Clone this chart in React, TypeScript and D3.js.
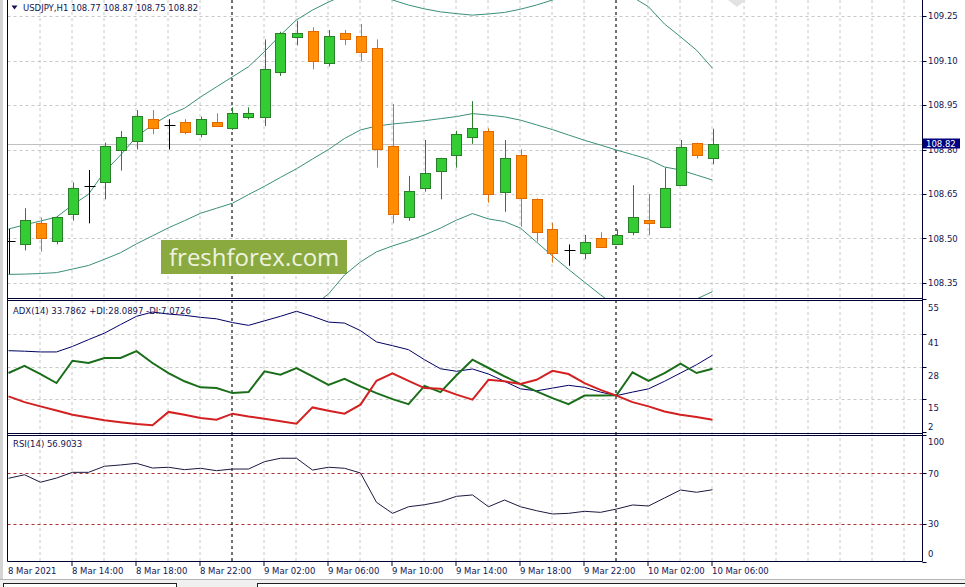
import * as d3 from "d3";

// USDJPY H1 bars, 8 Mar 10:00 .. 10 Mar 06:00
const opens = [108.49, 108.48, 108.551, 108.49, 108.582, 108.678, 108.689, 108.8, 108.83, 108.902, 108.883, 108.892, 108.851, 108.892, 108.871, 108.911, 108.911, 109.06, 109.18, 109.2, 109.09, 109.192, 109.183, 109.141, 108.812, 108.571, 108.669, 108.729, 108.78, 108.841, 108.862, 108.658, 108.78, 108.632, 108.531, 108.461, 108.45, 108.501, 108.48, 108.521, 108.562, 108.54, 108.679, 108.821, 108.77];
const highs = [108.532, 108.602, 108.571, 108.575, 108.689, 108.731, 108.823, 108.862, 108.933, 108.933, 108.902, 108.902, 108.911, 108.922, 108.942, 108.942, 109.171, 109.197, 109.234, 109.212, 109.203, 109.203, 109.223, 109.171, 108.953, 108.711, 108.832, 108.772, 108.863, 108.963, 108.871, 108.832, 108.801, 108.635, 108.553, 108.48, 108.512, 108.521, 108.531, 108.68, 108.65, 108.739, 108.832, 108.823, 108.87];
const lows = [108.38, 108.46, 108.456, 108.48, 108.56, 108.551, 108.632, 108.729, 108.8, 108.851, 108.8, 108.851, 108.841, 108.88, 108.866, 108.902, 108.879, 109.048, 109.151, 109.07, 109.08, 109.152, 109.098, 108.739, 108.551, 108.56, 108.658, 108.632, 108.739, 108.819, 108.621, 108.59, 108.54, 108.489, 108.419, 108.408, 108.43, 108.468, 108.478, 108.511, 108.511, 108.538, 108.677, 108.77, 108.75];
const closes = [108.49, 108.562, 108.501, 108.571, 108.669, 108.678, 108.812, 108.841, 108.913, 108.871, 108.883, 108.86, 108.902, 108.88, 108.922, 108.922, 109.07, 109.192, 109.192, 109.099, 109.183, 109.171, 109.13, 108.801, 108.582, 108.659, 108.72, 108.77, 108.852, 108.871, 108.649, 108.77, 108.638, 108.521, 108.45, 108.461, 108.489, 108.47, 108.511, 108.571, 108.551, 108.669, 108.81, 108.78, 108.82];

// Bollinger bands
const bandUpper = [108.532, 108.546, 108.559, 108.572, 108.613, 108.649, 108.725, 108.781, 108.843, 108.883, 108.916, 108.939, 108.977, 109.011, 109.045, 109.079, 109.13, 109.186, 109.237, 109.27, 109.297, 109.321, 109.331, 109.324, 109.304, 109.287, 109.274, 109.264, 109.258, 109.253, 109.257, 109.262, 109.273, 109.287, 109.304, 109.324, 109.338, 109.344, 109.338, 109.314, 109.281, 109.223, 109.18, 109.135, 109.074];
const bandMiddle = [108.379, 108.38, 108.382, 108.385, 108.397, 108.409, 108.43, 108.452, 108.482, 108.509, 108.536, 108.56, 108.585, 108.602, 108.619, 108.648, 108.676, 108.706, 108.735, 108.768, 108.8, 108.837, 108.866, 108.879, 108.886, 108.891, 108.897, 108.904, 108.911, 108.921, 108.916, 108.91, 108.899, 108.883, 108.867, 108.849, 108.831, 108.815, 108.798, 108.783, 108.767, 108.741, 108.731, 108.714, 108.697];
const bandLower = [108.225, 108.215, 108.205, 108.198, 108.181, 108.168, 108.134, 108.124, 108.121, 108.134, 108.155, 108.181, 108.192, 108.192, 108.192, 108.215, 108.222, 108.225, 108.232, 108.272, 108.313, 108.377, 108.421, 108.455, 108.475, 108.492, 108.512, 108.535, 108.562, 108.584, 108.566, 108.557, 108.535, 108.488, 108.441, 108.396, 108.353, 108.31, 108.272, 108.252, 108.252, 108.259, 108.283, 108.296, 108.321];

// ADX(14)
const adx = [34.8, 34.6, 34.3, 34.3, 36.5, 39.2, 41.8, 45.2, 48.5, 50.2, 49.4, 48.9, 48.1, 47.5, 46.0, 44.9, 46.7, 48.5, 50.5, 48.5, 46.2, 45.8, 42.8, 38.3, 36.8, 35.2, 31.2, 27.6, 26.6, 27.5, 25.5, 22.6, 19.6, 18.8, 19.9, 21.0, 20.2, 18.3, 16.9, 18.3, 19.6, 22.6, 25.9, 29.2, 33.0];
const plusDi = [25.9, 28.8, 25.5, 21.9, 30.8, 29.9, 31.9, 31.9, 34.6, 29.9, 25.9, 22.6, 20.2, 19.9, 17.9, 18.3, 26.6, 25.2, 27.9, 24.6, 21.2, 23.6, 20.6, 17.9, 15.5, 13.5, 20.8, 18.3, 25.0, 31.2, 27.9, 24.6, 21.5, 18.6, 15.9, 13.5, 16.9, 16.9, 17.0, 26.2, 22.8, 25.9, 29.6, 25.9, 27.6];
const minusDi = [16.6, 14.3, 12.6, 11.0, 9.3, 8.2, 7.1, 6.3, 5.6, 5.1, 10.4, 9.3, 8.0, 7.3, 9.7, 8.6, 7.7, 6.7, 5.7, 12.2, 10.9, 9.7, 13.3, 22.8, 25.8, 22.8, 19.9, 19.6, 17.3, 15.3, 23.2, 22.6, 21.5, 23.2, 26.8, 25.5, 21.9, 19.2, 16.9, 14.3, 12.6, 10.6, 9.3, 8.4, 7.3];

// RSI(14)
const rsi = [65.9, 68.7, 62.8, 66.1, 70.6, 70.6, 75.4, 76.4, 77.7, 74.0, 74.6, 72.7, 73.8, 71.9, 73.2, 73.2, 79.0, 81.7, 81.7, 72.4, 74.6, 73.8, 70.1, 47.0, 38.3, 43.5, 45.1, 47.5, 51.7, 52.8, 43.5, 48.8, 43.5, 40.4, 37.8, 38.3, 39.9, 39.1, 41.7, 44.9, 44.1, 50.4, 56.7, 54.9, 56.9];

const priceTicks = [108.35, 108.5, 108.65, 108.8, 108.95, 109.1, 109.25];
const adxTicks = [55, 41, 28, 15, 2];
const rsiTicks = [100, 70, 30, 0];
const rsiLevels = [70, 30];
const timeLabels = [
  { bar: 0, label: "8 Mar 2021" },
  { bar: 4, label: "8 Mar 14:00" },
  { bar: 8, label: "8 Mar 18:00" },
  { bar: 12, label: "8 Mar 22:00" },
  { bar: 16, label: "9 Mar 02:00" },
  { bar: 20, label: "9 Mar 06:00" },
  { bar: 24, label: "9 Mar 10:00" },
  { bar: 28, label: "9 Mar 14:00" },
  { bar: 32, label: "9 Mar 18:00" },
  { bar: 36, label: "9 Mar 22:00" },
  { bar: 40, label: "10 Mar 02:00" },
  { bar: 44, label: "10 Mar 06:00" },
];
const daySeparators = [14, 38];
const lastPrice = 108.82;

const FONT = "'DejaVu Sans', Tahoma, sans-serif";
const NAVY = "#000033";
const TXT = "#141450";
const GRID = "#c8c8c8";

const L = 7.5;
const R = 922.5;

export default function App() {
  const x = d3.scaleLinear().domain([0, 44]).range([8.5, 712.5]);
  const yP = d3.scaleLinear().domain([108.35, 109.25]).range([283, 16]);
  const yA = d3.scaleLinear().domain([2, 55]).range([433, 300]);
  const yR = d3.scaleLinear().domain([0, 100]).range([562, 435]);

  const lineOf = (y: d3.ScaleLinear<number, number>) =>
    d3.line<number>().x((_, i) => x(i)).y((v) => y(v));

  const gridBars = d3.range(2, 57, 2);

  return (
    <svg
      width={965}
      height={587}
      style={{ position: "absolute", left: 0, top: 0, background: "#fff" }}
      fontFamily={FONT}
    >
      <defs>
        <clipPath id="cMain">
          <rect x={8} y={0} width={914} height={298} />
        </clipPath>
        <clipPath id="cAdx">
          <rect x={8} y={301} width={914} height={132} />
        </clipPath>
        <clipPath id="cRsi">
          <rect x={8} y={436} width={914} height={125} />
        </clipPath>
      </defs>
      <rect x={0} y={0} width={965} height={587} fill="#fff" />
      <rect x={0} y={0} width={3} height={580} fill="#d4d4d4" />

      {/* vertical grid */}
      {gridBars.map((b) => (
        <line key={"vg" + b} x1={8 + b * 16} x2={8 + b * 16} y1={0} y2={561} stroke={GRID} strokeDasharray="3,3" />
      ))}
      {/* horizontal grids */}
      {priceTicks.map((p) => (
        <line key={"hg" + p} x1={L} x2={R} y1={Math.round(yP(p)) + 0.5} y2={Math.round(yP(p)) + 0.5} stroke={GRID} strokeDasharray="3,3" />
      ))}
      {[41, 28, 15].map((v) => (
        <line key={"ag" + v} x1={L} x2={R} y1={Math.round(yA(v)) - 0.5} y2={Math.round(yA(v)) - 0.5} stroke={GRID} strokeDasharray="3,3" />
      ))}
      {rsiLevels.map((v) => (
        <line key={"rl" + v} x1={L} x2={R} y1={Math.round(yR(v)) + 0.5} y2={Math.round(yR(v)) + 0.5} stroke="#b03030" strokeDasharray="3,3" />
      ))}

      {/* day separators */}
      {daySeparators.map((b) => (
        <line key={"ds" + b} x1={8 + b * 16} x2={8 + b * 16} y1={0} y2={561} stroke="#000" strokeDasharray="3,3" />
      ))}

      {/* watermark */}
      <rect x={161} y={240} width={186} height={34} fill="#8aa93f" />
      <text x={169} y={266} fontFamily="'Open Sans', sans-serif" fontSize={24} fill="#eef3e0">
        freshforex.com
      </text>

      {/* main panel */}
      <g clipPath="url(#cMain)">
        <line x1={L} x2={R} y1={Math.round(yP(lastPrice)) + 0.5} y2={Math.round(yP(lastPrice)) + 0.5} stroke="#c0c0c0" />
        {[bandUpper, bandMiddle, bandLower].map((s, k) => (
          <path key={"bb" + k} d={lineOf(yP)(s) ?? ""} fill="none" stroke="#3a8f7a" strokeWidth={1} />
        ))}
        {opens.map((o, i) => {
          const c = closes[i];
          const cx = Math.round(x(i)) + 0.5;
          const hi = yP(highs[i]);
          const lo = yP(lows[i]);
          if (o === c) {
            const yy = Math.round(yP(o)) + 0.5;
            return (
              <g key={"c" + i}>
                <line x1={cx} x2={cx} y1={hi} y2={lo} stroke="#000" />
                <line x1={cx - 5} x2={cx + 6} y1={yy} y2={yy} stroke="#000" />
              </g>
            );
          }
          const up = c > o;
          const top = Math.round(yP(Math.max(o, c))) + 0.5;
          const bot = Math.round(yP(Math.min(o, c))) + 0.5;
          return (
            <g key={"c" + i}>
              <line x1={cx} x2={cx} y1={hi} y2={lo} stroke={up ? "#2a7f2a" : "#e0700f"} />
              <rect
                x={cx - 5}
                y={top}
                width={10}
                height={Math.max(bot - top, 2)}
                fill={up ? "#33cc33" : "#ff8c00"}
                stroke={up ? "#2a7f2a" : "#e06a00"}
              />
            </g>
          );
        })}
        <polygon points="728,0 746,0 737,7" fill="#e2e2e2" />
      </g>

      {/* ADX panel */}
      <g clipPath="url(#cAdx)">
        <path d={lineOf(yA)(adx) ?? ""} fill="none" stroke="#000066" strokeWidth={1} />
        <path d={lineOf(yA)(plusDi) ?? ""} fill="none" stroke="#1a6e1a" strokeWidth={2} />
        <path d={lineOf(yA)(minusDi) ?? ""} fill="none" stroke="#d42020" strokeWidth={2} />
      </g>

      {/* RSI panel */}
      <g clipPath="url(#cRsi)">
        <path d={lineOf(yR)(rsi) ?? ""} fill="none" stroke="#1a1a40" strokeWidth={1} />
      </g>

      {/* panel frames */}
      <line x1={L} x2={L} y1={0} y2={561.5} stroke={NAVY} />
      <line x1={R} x2={R} y1={0} y2={561.5} stroke={NAVY} />
      {[298.5, 300.5, 433.5, 435.5, 561.5].map((yy) => (
        <line key={"f" + yy} x1={L} x2={R} y1={yy} y2={yy} stroke={NAVY} />
      ))}

      {/* headers */}
      <polygon points="11.5,5.5 17.5,5.5 14.5,9.5" fill={TXT} />
      <text x={23} y={11} fontSize={8.5} fill={TXT}>
        USDJPY,H1  108.77 108.87 108.75 108.82
      </text>
      <text x={13} y={314} fontSize={8.5} fill={TXT}>
        ADX(14) 33.7862 +DI:28.0897 -DI:7.0726
      </text>
      <text x={13} y={447} fontSize={8.5} fill={TXT}>
        RSI(14) 56.9033
      </text>

      {/* price axis */}
      {priceTicks.map((p) => (
        <g key={"pt" + p}>
          <line x1={R} x2={R + 4} y1={Math.round(yP(p)) + 0.5} y2={Math.round(yP(p)) + 0.5} stroke={NAVY} />
          <text x={928} y={yP(p) + 3} fontSize={8.5} fill={TXT}>
            {p.toFixed(2)}
          </text>
        </g>
      ))}
      <rect x={923} y={138.5} width={37} height={10} fill="#000080" />
      <text x={926} y={146.5} fontSize={8.5} fill="#fff">
        {lastPrice.toFixed(2)}
      </text>

      {adxTicks.map((v) => (
        <g key={"at" + v}>
          <line x1={R} x2={R + 4} y1={Math.round(yA(v)) - 0.5} y2={Math.round(yA(v)) - 0.5} stroke={NAVY} />
          <text x={928} y={Math.min(yA(v) + 11, 430)} fontSize={8.5} fill={TXT}>
            {v}
          </text>
        </g>
      ))}
      {rsiTicks.map((v) => (
        <g key={"rt" + v}>
          <line x1={R} x2={R + 4} y1={Math.round(yR(v)) + 0.5} y2={Math.round(yR(v)) + 0.5} stroke={NAVY} />
          <text x={928} y={Math.max(445, Math.min(yR(v) + 3.5, 557))} fontSize={8.5} fill={TXT}>
            {v}
          </text>
        </g>
      ))}

      {/* time axis */}
      {timeLabels.map((t) => (
        <g key={"tl" + t.bar}>
          {t.bar > 0 && (
            <line x1={8 + t.bar * 16} x2={8 + t.bar * 16} y1={561} y2={566} stroke={NAVY} />
          )}
          <text x={8 + t.bar * 16} y={574} fontSize={8.5} fill={TXT}>
            {t.label}
          </text>
        </g>
      ))}

      {/* bottom tabs */}
      <rect x={0} y={579} width={965} height={8} fill="#f0f0f0" />
      <line x1={0} x2={965} y1={579.5} y2={579.5} stroke="#b4b4b4" />
      <rect x={3.5} y={583.5} width={173} height={6} fill="#fff" stroke="#202020" />
      <rect x={257.5} y={583.5} width={710} height={6} fill="#fff" stroke="#202020" />
    </svg>
  );
}
